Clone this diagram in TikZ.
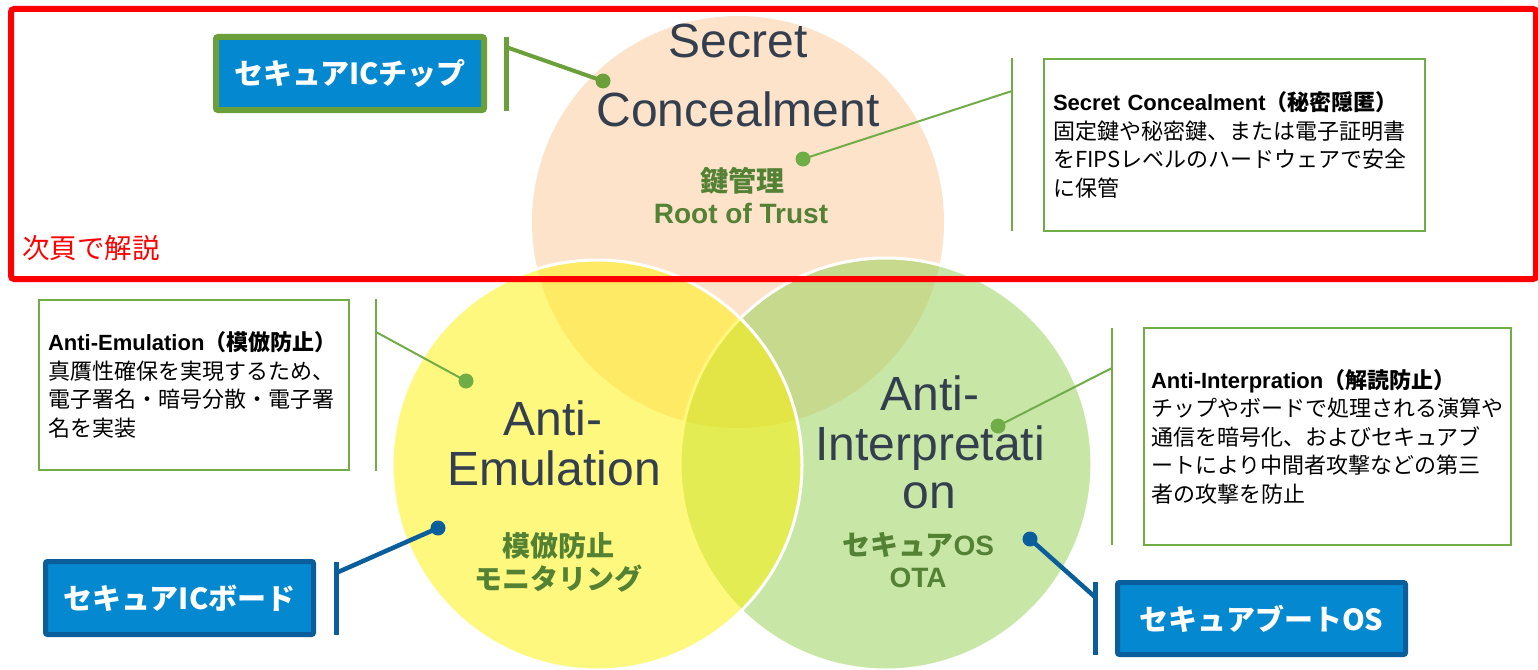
\documentclass[tikz,border=0pt]{standalone}
\usepackage{fontspec}
\setmainfont{Liberation Sans}
\newfontfamily\jp{Noto Sans CJK JP}
\definecolor{peach}{HTML}{FEE3CB}
\definecolor{lgreen}{HTML}{92D050}
\definecolor{darktext}{HTML}{333F4F}
\definecolor{subgreen}{HTML}{548235}
\definecolor{linegreen}{HTML}{70AD47}
\definecolor{chipgreen}{HTML}{6A9F3A}
\definecolor{boxblue}{HTML}{0489D1}
\definecolor{darkblue}{HTML}{0B5E9C}
\begin{document}
\begin{tikzpicture}[x=1pt,y=-1pt,
  bigtext/.style={text=darktext, font=\fontsize{48}{48}\selectfont, anchor=base, inner sep=0pt},
  subtext/.style={text=subgreen, font=\fontsize{28}{33}\selectfont\bfseries, anchor=base, inner sep=0pt},
  descbox/.style={draw=linegreen, line width=2.5pt, fill=white, align=left, inner xsep=9pt, inner ysep=0pt,
    font=\jp\fontsize{22}{28.5}\selectfont, text=black},
  bluebox/.style={fill=boxblue, text=white, font=\jp\bfseries\fontsize{29}{30}\selectfont, rounded corners=2pt, inner sep=0pt},
  dotmark/.style={circle, inner sep=0pt, minimum size=15pt},
  venn/.style={draw=white, line width=3pt, fill opacity=0.5},
]
\useasboundingbox (0,0) rectangle (1538,669);
\fill[white] (0,0) rectangle (1538,669);

% circles
\fill[peach] (738,222) circle[radius=206];
\draw[venn, fill=lgreen] (886,464) circle[radius=206];
\draw[venn, fill=yellow] (597,465) circle[radius=205];

% red frame
\draw[red, line width=6pt, rounded corners=3pt] (11,9) rectangle (1536,279);
\node[anchor=base west, inner sep=0pt, text=red, font=\jp\fontsize{27.5}{27.5}\selectfont] (next) at (22,258) {次頁で解説};

% circle texts
\node[bigtext] (sc1) at (738,57) {Secret};
\node[bigtext] (sc2) at (738,126) {Concealment};
\node[subtext] (sc3) at (742,191) {\jp 鍵管理};
\node[subtext] (sc4) at (741,223) {Root of Trust};

\node[bigtext] (ae1) at (553,435) {Anti-};
\node[bigtext] (ae2) at (554,485) {Emulation};
\node[subtext] (ae3) at (558,556) {\jp 模倣防止};
\node[subtext] (ae4) at (558,589) {\jp モニタリング};

\node[bigtext] (ai1) at (930,410) {Anti-};
\node[bigtext] (ai2) at (930,460) {Interpretati};
\node[bigtext] (ai3) at (929,508) {on};
\node[subtext] (ai4) at (918,555) {{\jp セキュア}OS};
\node[subtext] (ai5) at (918,587) {OTA};

% blue boxes
\node[bluebox, draw=chipgreen, line width=6pt, minimum width=268pt, minimum height=73pt] (chip) at (350,73.5) {セキュアICチップ};
\node[bluebox, draw=darkblue, line width=5pt, minimum width=268pt, minimum height=73pt] (board) at (179.5,598) {セキュアICボード};
\node[bluebox, draw=darkblue, line width=5pt, minimum width=288pt, minimum height=72pt] (boot) at (1261.5,618.5) {セキュアブートOS};

% description boxes
\node[descbox, minimum width=381pt, minimum height=172pt, text width=363pt] (scbox) at (1234.5,145) {%
\mbox{{\rmfamily\bfseries Secret Concealment}{\bfseries （秘密隠匿）}}\\
固定鍵や秘密鍵、または電子証明書\\
をFIPSレベルのハードウェアで安全\\
に保管};
\node[descbox, minimum width=310pt, minimum height=170pt, text width=292pt] (aebox) at (194,385) {%
\mbox{{\rmfamily\bfseries Anti-Emulation}{\bfseries （模倣防止）}}\\
真贋性確保を実現するため、\\
電子署名・暗号分散・電子署\\
名を実装};
\node[descbox, inner xsep=7pt, minimum width=367pt, minimum height=217pt, text width=353pt] (aibox) at (1327.5,436.5) {%
\mbox{{\rmfamily\bfseries Anti-Interpration}{\bfseries （解読防止）}}\\
チップやボードで処理される演算や\\
通信を暗号化、およびセキュアブ\\
ートにより中間者攻撃などの第三\\
者の攻撃を防止};

% connectors
% chip
\coordinate (c1t) at (506,37);
\coordinate (c1b) at (506,111);
\coordinate (c1m) at (506,47);
\node[dotmark, fill=chipgreen] (d1) at (603,81) {};
\draw[chipgreen, line width=5pt] (c1t) -- (c1b);
\draw[chipgreen, line width=4pt] (c1m) -- (d1.center);
% secret concealment description
\coordinate (c2t) at (1012,58);
\coordinate (c2b) at (1012,231);
\coordinate (c2m) at (1012,91);
\node[dotmark, fill=linegreen] (d2) at (803,159) {};
\draw[linegreen, line width=2.5pt] (c2t) -- (c2b);
\draw[linegreen, line width=2pt] (c2m) -- (d2.center);
% anti-emulation description
\coordinate (c3t) at (376,299);
\coordinate (c3b) at (376,471);
\coordinate (c3m) at (376,332);
\node[dotmark, fill=linegreen] (d3) at (466,381) {};
\draw[linegreen, line width=2.5pt] (c3t) -- (c3b);
\draw[linegreen, line width=2pt] (c3m) -- (d3.center);
% board
\coordinate (c4t) at (336,562);
\coordinate (c4b) at (336,635);
\coordinate (c4m) at (336,573);
\node[dotmark, fill=darkblue] (d4) at (438,528) {};
\draw[darkblue, line width=5pt] (c4t) -- (c4b);
\draw[darkblue, line width=4.5pt] (c4m) -- (d4.center);
% anti-interpretation description
\coordinate (c5t) at (1112,328);
\coordinate (c5b) at (1112,545);
\coordinate (c5m) at (1112,368);
\node[dotmark, fill=linegreen] (d5) at (998,426) {};
\draw[linegreen, line width=2.5pt] (c5t) -- (c5b);
\draw[linegreen, line width=2pt] (c5m) -- (d5.center);
% boot os
\coordinate (c6t) at (1095,582);
\coordinate (c6b) at (1095,655);
\coordinate (c6m) at (1095,597);
\node[dotmark, fill=darkblue] (d6) at (1030,539) {};
\draw[darkblue, line width=5pt] (c6t) -- (c6b);
\draw[darkblue, line width=4.5pt] (c6m) -- (d6.center);
\end{tikzpicture}
\end{document}
